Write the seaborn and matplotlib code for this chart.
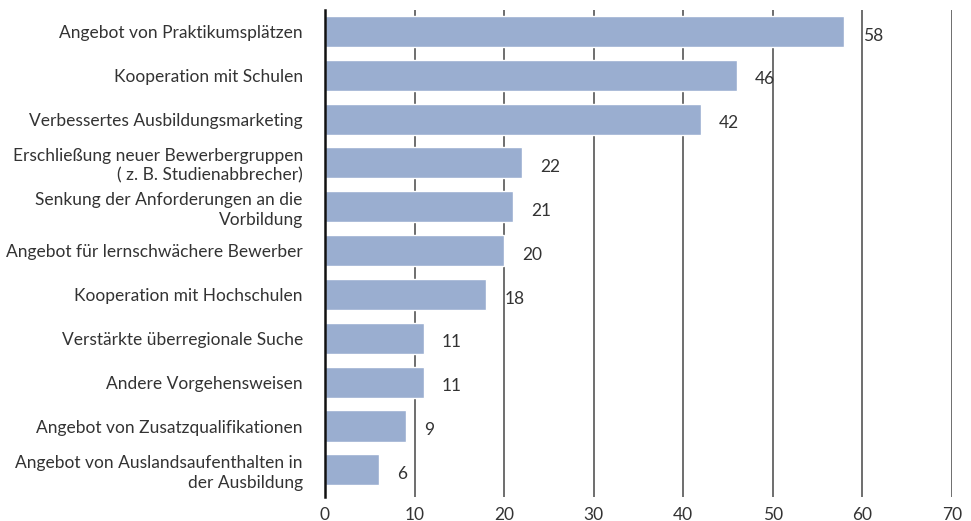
import pandas as pd
import matplotlib.pyplot as plt
import seaborn as sns

# Daten
massnahmen = [
    "Angebot von Praktikumsplätzen",
    "Kooperation mit Schulen",
    "Verbessertes Ausbildungsmarketing",
    "Erschließung neuer Bewerbergruppen\n( z. B. Studienabbrecher)",
    "Senkung der Anforderungen an die\nVorbildung",
    "Angebot für lernschwächere Bewerber",
    "Kooperation mit Hochschulen",
    "Verstärkte überregionale Suche",
    "Andere Vorgehensweisen",
    "Angebot von Zusatzqualifikationen",
    "Angebot von Auslandsaufenthalten in\nder Ausbildung",
]
werte = [58, 46, 42, 22, 21, 20, 18, 11, 11, 9, 6]
x_ticks = [0, 10, 20, 30, 40, 50, 60, 70]

df = pd.DataFrame({"Massnahme": massnahmen, "Wert": werte})

sns.set_style("white")
plt.rcParams["font.family"] = ["Lato", "DejaVu Sans"]

fig = plt.figure(figsize=(9.71, 5.21), dpi=100)
ax = fig.add_axes([0.3347, 0.046, 0.6457, 0.935])

# Gitterlinien hinter den Balken
for t in x_ticks[1:]:
    ax.axvline(t, color="#555555", lw=1.2, zorder=0)

sns.barplot(data=df, x="Wert", y="Massnahme", color="#9aaed0", width=0.71,
            saturation=1, ax=ax, zorder=2)

for i, v in enumerate(werte):
    ax.annotate(str(v), xy=(v, i), xytext=(13, -3), textcoords="offset points",
                ha="left", va="center", fontsize=12.5, color="#333333", zorder=3)

ax.set_xlim(0, 70)
ax.set_ylim(10.62, -0.49)
ax.set_xticks(x_ticks)
ax.set_xlabel("")
ax.set_ylabel("")
for s in ["top", "right", "bottom"]:
    ax.spines[s].set_visible(False)
ax.spines["left"].set_color("#111111")
ax.spines["left"].set_linewidth(1.8)
ax.spines["left"].set_zorder(4)
ax.tick_params(axis="x", length=0, pad=7, labelsize=12.5, labelcolor="#333333")
ax.tick_params(axis="y", length=0, pad=16, labelsize=12.5, labelcolor="#333333")
for lab in ax.get_yticklabels():
    lab.set_linespacing(1.25)
    lab.set_multialignment("right")

plt.savefig("out.png", dpi=100)
